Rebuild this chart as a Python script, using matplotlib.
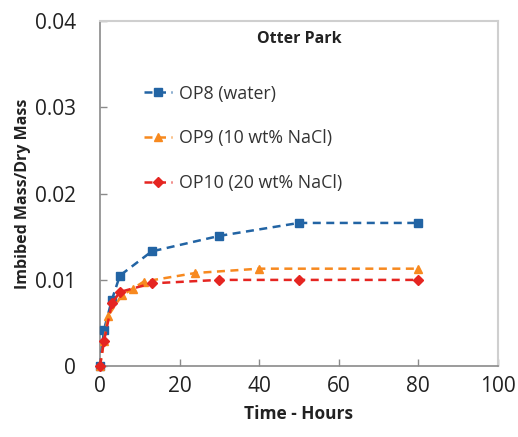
"""
plot.py — imbibition curves for the Otter Park samples (imbibed mass / dry mass
vs time), one dashed line per brine. Writes out.png.
"""

import matplotlib
matplotlib.use("Agg")
import matplotlib.pyplot as plt

# Data
op8_hours = [0, 1, 3, 5, 13, 30, 50, 80]
op8_ratio = [0.0, 0.0042, 0.0077, 0.0105, 0.0133, 0.0151, 0.0166, 0.0166]

op9_hours = [0, 1, 2, 5.5, 8.3, 11, 24, 40, 80]
op9_ratio = [0.0, 0.0029, 0.0058, 0.0082, 0.0090, 0.0098, 0.0108, 0.0113, 0.0113]

op10_hours = [0, 1, 3, 5, 13, 30, 50, 80]
op10_ratio = [0.0, 0.0029, 0.0073, 0.0086, 0.0096, 0.0100, 0.0100, 0.0100]

series = [
    ("OP8 (water)", op8_hours, op8_ratio, "#2264a4", "s"),
    ("OP9 (10 wt% NaCl)", op9_hours, op9_ratio, "#f7891f", "^"),
    ("OP10 (20 wt% NaCl)", op10_hours, op10_ratio, "#e52521", "D"),
]

plt.rcParams["font.family"] = ["Open Sans", "DejaVu Sans"]

fig = plt.figure(figsize=(5.18, 4.37), dpi=100)
ax = fig.add_axes([0.193, 0.162, 0.768, 0.790])

for label, xs, ys, color, marker in series:
    ax.plot(xs, ys, linestyle=(0, (3.2, 2.2)), linewidth=1.8, color=color,
            marker=marker, markersize=5.5 if marker != "D" else 5,
            label=label, clip_on=False, zorder=3)

ax.set_xlim(0, 100)
ax.set_ylim(0, 0.04)
ax.set_xticks([0, 20, 40, 60, 80, 100])
ax.set_yticks([0, 0.01, 0.02, 0.03, 0.04])
ax.set_yticklabels(["0", "0.01", "0.02", "0.03", "0.04"])

for side in ("left", "bottom"):
    ax.spines[side].set_color("#8a8a8a")
    ax.spines[side].set_linewidth(1.2)
for side in ("top", "right"):
    ax.spines[side].set_color("#cfcfcf")
    ax.spines[side].set_linewidth(1.5)

ax.tick_params(direction="in", length=5, width=1.0, color="#8a8a8a",
               labelsize=15, labelcolor="#222222")
ax.tick_params(axis="y", pad=17)
ax.tick_params(axis="x", pad=7)

ax.set_xlabel("Time - Hours", fontsize=12.5, fontweight="bold",
              color="#222222", labelpad=6)
ax.set_ylabel("Imbibed Mass/Dry Mass", fontsize=11.5, fontweight="bold",
              color="#222222", labelpad=3)

ax.text(0.50, 0.948, "Otter Park", transform=ax.transAxes, ha="center",
        va="center", fontsize=11.5, fontweight="bold", color="#222222")

ax.legend(loc="upper left", bbox_to_anchor=(0.07, 0.862), frameon=False,
          fontsize=12.8, handlelength=1.6, handletextpad=0.4,
          labelspacing=1.5, labelcolor="#333333")

fig.savefig("out.png", dpi=100)
